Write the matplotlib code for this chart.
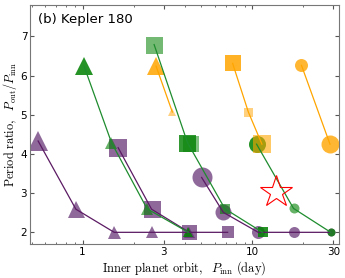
import matplotlib
matplotlib.use('Agg')
import matplotlib.pyplot as plt

plt.rcParams['mathtext.fontset'] = 'cm'

# inner period (day), period ratio, marker size (px), alpha
pur_tri_x = [0.547, 0.913, 1.536, 2.57, 4.25]
pur_tri_y = [4.33, 2.59, 2.0, 2.0, 2.0]
pur_tri_s = [20, 17, 13, 12, 11]
pur_sq_x = [1.62, 2.55, 4.25, 7.16]
pur_sq_y = [4.16, 2.59, 2.0, 2.0]
pur_sq_s = [18, 17, 15, 12]
pur_ci_x = [5.03, 6.75, 10.85, 17.7, 29.0]
pur_ci_y = [3.40, 2.51, 2.0, 2.0, 2.0]
pur_ci_s = [20, 16, 13, 11, 8]

grn_tri_x = [1.02, 1.48, 2.4, 4.2]
grn_tri_y = [6.24, 4.29, 2.6, 2.0]
grn_tri_s = [18, 12, 12, 10]
grn_tri_a = [0.85, 0.6, 0.6, 0.85]
grn_sq_x = [2.64, 4.15, 6.9, 11.5]
grn_sq_y = [6.79, 4.29, 2.6, 2.0]
grn_sq_s = [17, 17, 10, 10]
grn_sq_a = [0.55, 0.8, 0.6, 0.85]
grn_sq2_x = [4.38]
grn_sq2_y = [4.26]
grn_ci_x = [10.6, 17.5, 29.0]
grn_ci_y = [4.25, 2.61, 2.0]
grn_ci_s = [17, 10, 8]
grn_ci_a = [0.85, 0.6, 0.75]

org_tri_x = [2.71, 3.38]
org_tri_y = [6.24, 5.07]
org_tri_s = [18, 8]
org_tri_a = [0.85, 0.5]
org_sq_x = [7.66, 9.48, 11.4]
org_sq_y = [6.31, 5.07, 4.25]
org_sq_s = [16, 9, 18]
org_sq_a = [0.85, 0.5, 0.6]
org_ci_x = [19.5, 28.7]
org_ci_y = [6.26, 4.25]
org_ci_s = [13, 18]
org_ci_a = [0.8, 0.8]

kepler_x = [13.8]
kepler_y = [3.03]

PUR, PUR_L = '#5e2a70', '#5b1a63'
GRN, GRN_L = '#008000', '#1e8c2e'
ORG, ORG_L = '#ffa500', '#ffa500'

PX = 0.72  # px -> points at dpi 100


def series(ax, xs, ys, sizes, alphas, marker, col, lcol):
    ax.plot(xs, ys, '-', color=lcol, lw=0.9, zorder=3)
    for x, y, s, a in zip(xs, ys, sizes, alphas):
        ax.plot([x], [y], marker=marker, ms=s * PX, color=col, alpha=a,
                mew=0, ls='none', zorder=2)


fig = plt.figure(figsize=(3.45, 2.78), dpi=100)
ax = fig.add_axes([0.087, 0.122, 0.896, 0.860])

series(ax, pur_tri_x, pur_tri_y, pur_tri_s, [0.7] * 5, '^', PUR, PUR_L)
series(ax, pur_sq_x, pur_sq_y, pur_sq_s, [0.7] * 4, 's', PUR, PUR_L)
series(ax, pur_ci_x, pur_ci_y, pur_ci_s, [0.7] * 5, 'o', PUR, PUR_L)
series(ax, grn_tri_x, grn_tri_y, grn_tri_s, grn_tri_a, '^', GRN, GRN_L)
series(ax, grn_sq_x, grn_sq_y, grn_sq_s, grn_sq_a, 's', GRN, GRN_L)
ax.plot(grn_sq2_x, grn_sq2_y, 's', ms=16 * PX, color=GRN, alpha=0.5, mew=0, zorder=2)
series(ax, grn_ci_x, grn_ci_y, grn_ci_s, grn_ci_a, 'o', GRN, GRN_L)
series(ax, org_tri_x, org_tri_y, org_tri_s, org_tri_a, '^', ORG, ORG_L)
series(ax, org_sq_x, org_sq_y, org_sq_s, org_sq_a, 's', ORG, ORG_L)
series(ax, org_ci_x, org_ci_y, org_ci_s, org_ci_a, 'o', ORG, ORG_L)

ax.plot(kepler_x, kepler_y, '*', ms=24, mfc='none', mec='red', mew=0.8, zorder=4)

ax.set_xscale('log')
ax.set_xlim(0.49, 32.5)
ax.set_ylim(1.7, 7.8)
ax.set_xticks([1, 3, 10, 30])
ax.set_xticklabels(['1', '3', '10', '30'])
ax.set_yticks([2, 3, 4, 5, 6, 7])
ax.tick_params(which='both', direction='in', top=True, right=True,
               labelsize=7.5, color='#555555', pad=2)
ax.tick_params(which='major', length=3)
ax.tick_params(which='minor', length=1.5)
for sp in ax.spines.values():
    sp.set_color('#777777')

ax.set_xlabel(r'$\mathrm{Inner\ planet\ orbit,}\ \ P_{\rm inn}\ \mathrm{(day)}$',
              fontsize=9, labelpad=2)
ax.set_ylabel(r'$\mathrm{Period\ ratio,}\ \ P_{\rm out}/P_{\rm inn}$',
              fontsize=8.8, labelpad=1)
ax.text(0.025, 0.965, '(b) Kepler 180', transform=ax.transAxes,
        fontsize=9.5, va='top', ha='left')

fig.savefig('out.png', dpi=100)
